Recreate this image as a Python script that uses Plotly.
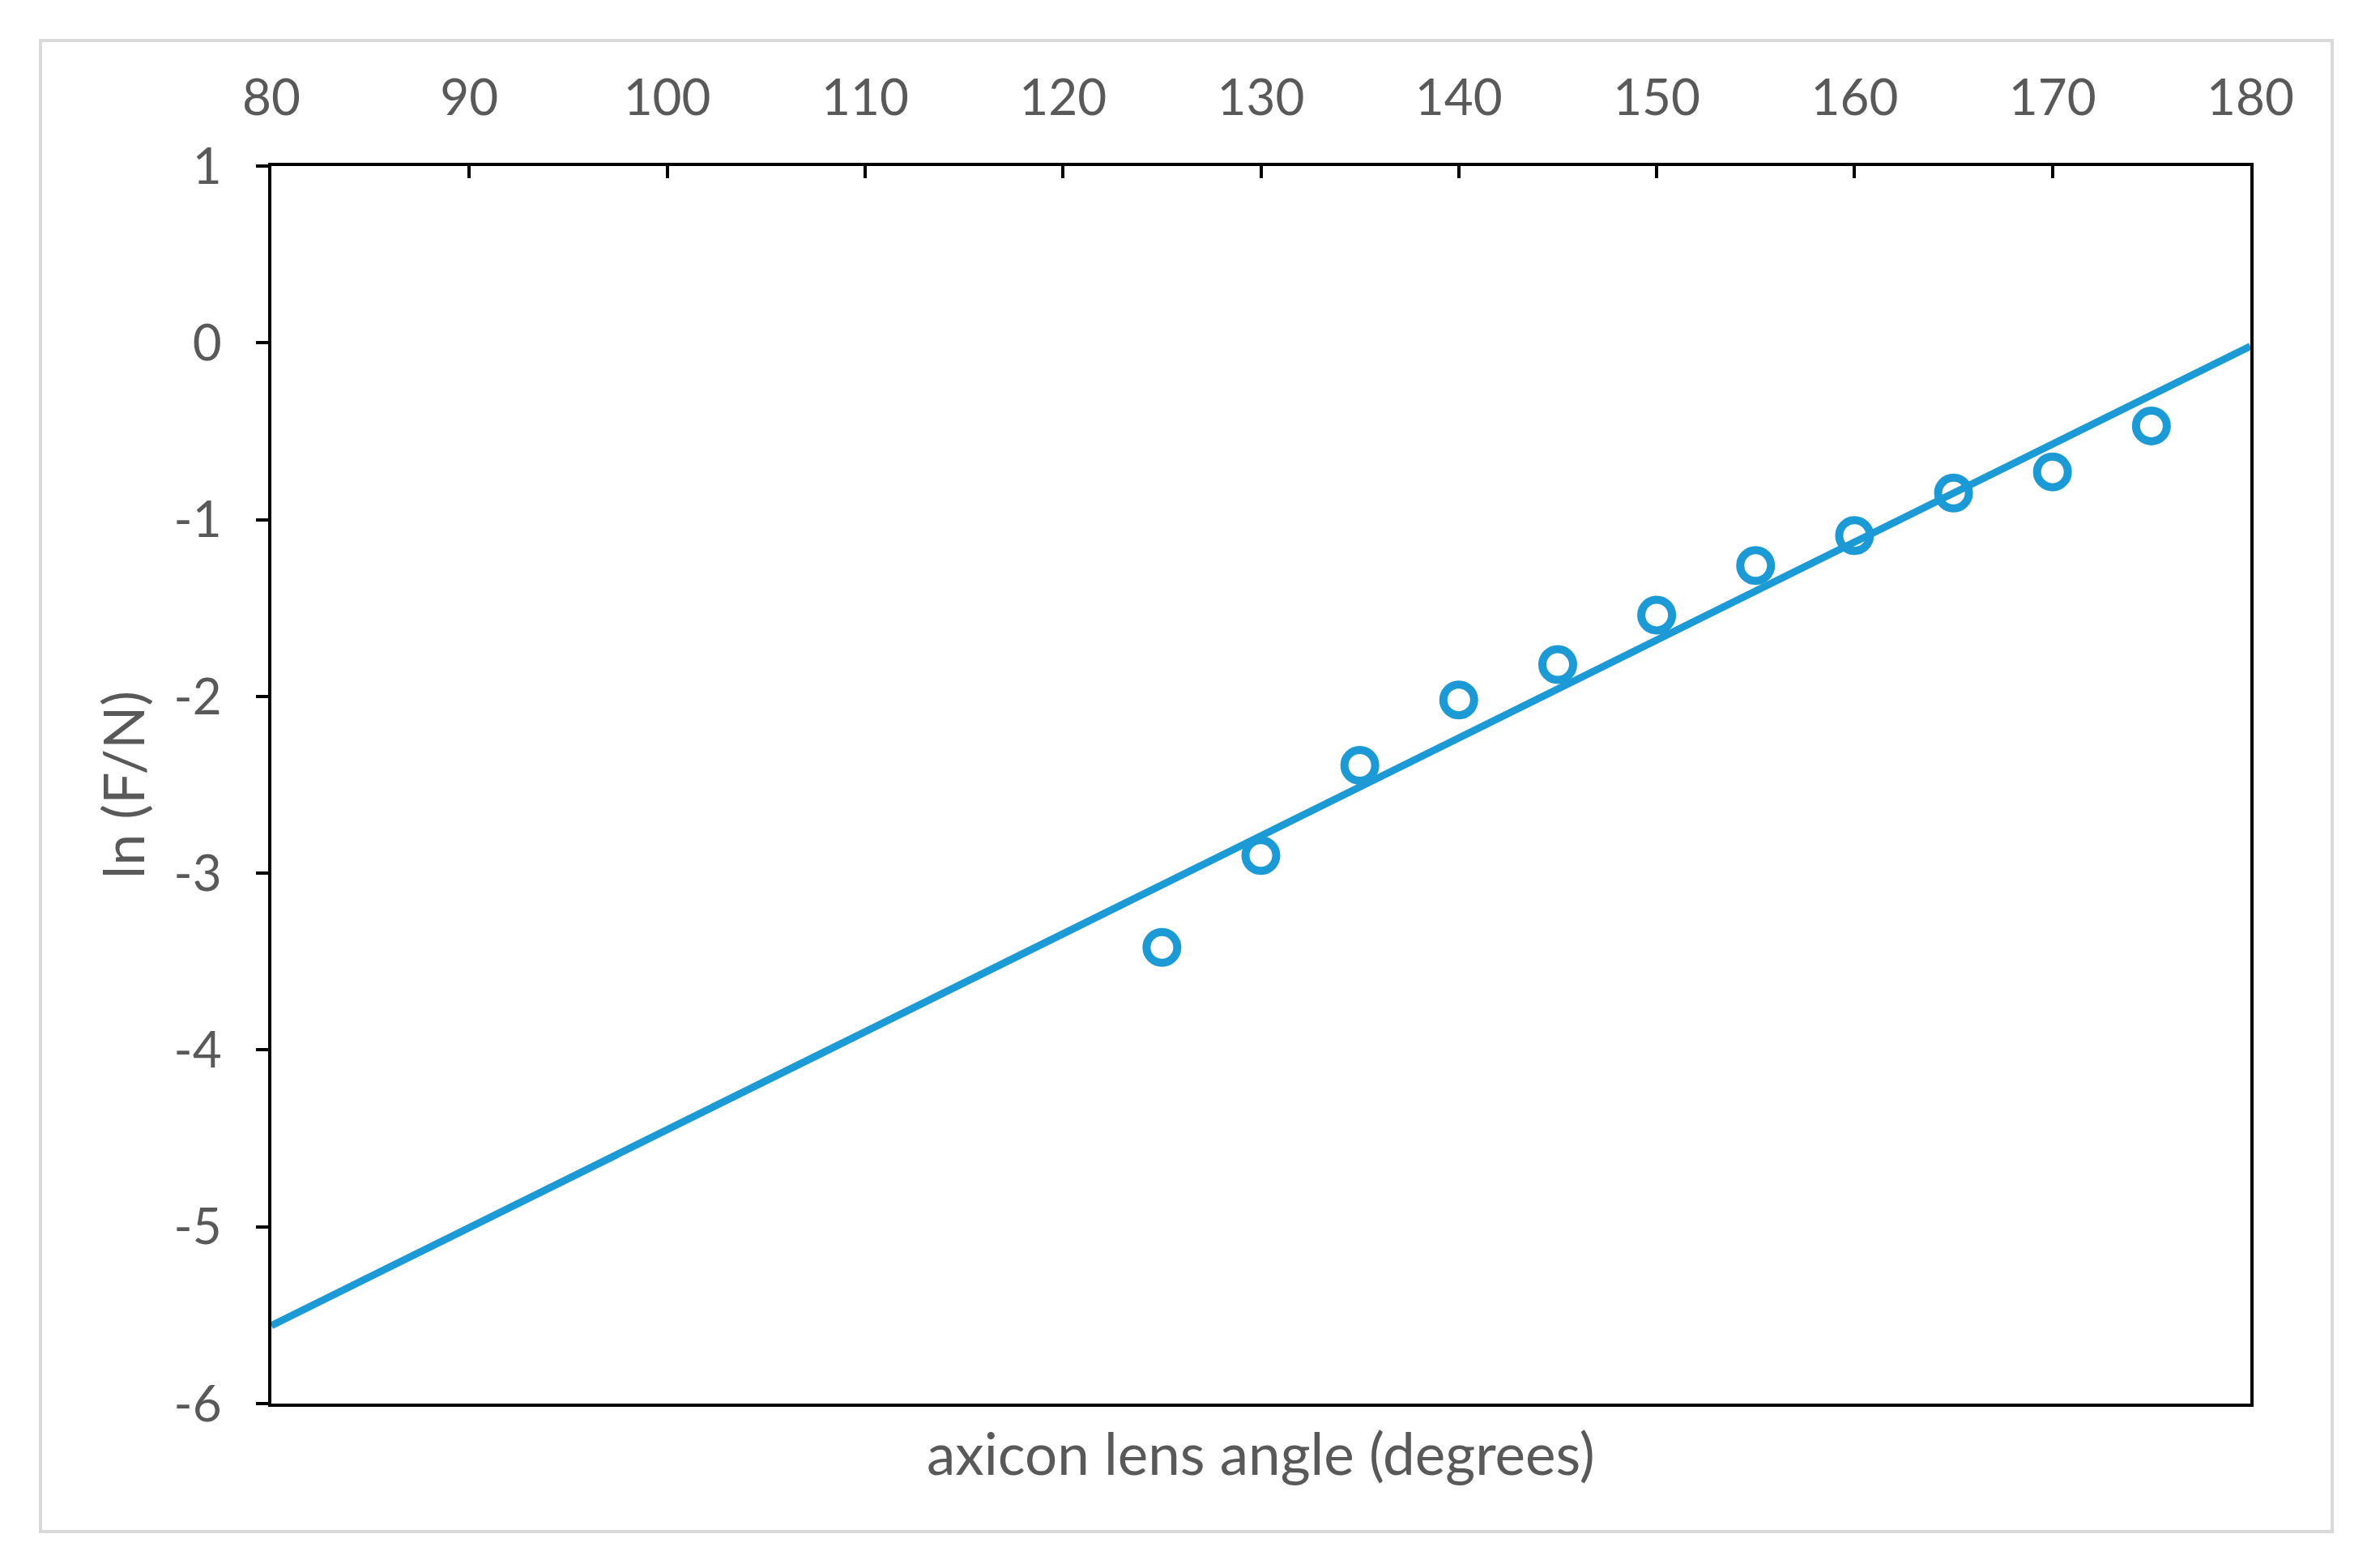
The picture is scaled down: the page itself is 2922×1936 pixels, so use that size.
import numpy as np
import plotly.graph_objects as go

# Data
angle_deg = [125, 130, 135, 140, 145, 150, 155, 160, 165, 170, 175]
ln_F_over_N = [-3.42, -2.90, -2.39, -2.02, -1.82, -1.54, -1.26, -1.09, -0.85, -0.73, -0.47]

x_tickvals = [80, 90, 100, 110, 120, 130, 140, 150, 160, 170, 180]
x_ticktext = [str(v) for v in x_tickvals]
y_tickvals = [1, 0, -1, -2, -3, -4, -5, -6]
y_ticktext = ["1", "0", "-1", "-2", "-3", "-4", "-5", "-6"]

x_title = "axicon lens angle (degrees)"
y_title = "ln (F/N)"

# Linear trendline (least squares fit of the data), spanning the axis range
slope, intercept = np.polyfit(angle_deg, ln_F_over_N, 1)
trend_x = [80, 180]
trend_y = [slope * v + intercept for v in trend_x]

BLUE = "#1b9ad6"
TEXT = "#595959"
FONT = "Lato, 'Open Sans', sans-serif"

fig = go.Figure()
fig.add_trace(go.Scatter(
    x=trend_x, y=trend_y, mode="lines",
    line=dict(color=BLUE, width=9), showlegend=False, hoverinfo="skip",
))
fig.add_trace(go.Scatter(
    x=angle_deg, y=ln_F_over_N, mode="markers",
    marker=dict(symbol="circle-open", size=38, color=BLUE, line=dict(color=BLUE, width=10)),
    showlegend=False,
))

W, H = 2922, 1936
ml, mr, mt, mb = 335, 144, 205, 203
pw = W - ml - mr
ph = H - mt - mb

def px_to_paper_x(px):
    return (px - ml) / pw

def px_to_paper_y(py):
    return (H - mb - py) / ph

fig.update_layout(
    width=W, height=H,
    margin=dict(l=ml, r=mr, t=mt, b=mb, autoexpand=False),
    paper_bgcolor="white", plot_bgcolor="white",
    font=dict(family=FONT, color=TEXT, size=60),
    xaxis=dict(
        range=[80, 180], side="top",
        tickvals=x_tickvals, ticktext=x_ticktext,
        ticks="inside", ticklen=15, tickwidth=4, tickcolor="black",
        showline=True, linecolor="black", linewidth=4, mirror=True,
        showgrid=False, zeroline=False,
        tickfont=dict(size=62, color=TEXT, family=FONT),
        ticklabelstandoff=34,
    ),
    yaxis=dict(
        range=[-6, 1],
        tickvals=y_tickvals, ticktext=y_ticktext,
        ticks="outside", ticklen=15, tickwidth=4, tickcolor="black",
        showline=True, linecolor="black", linewidth=4, mirror=True,
        showgrid=False, zeroline=False,
        tickfont=dict(size=62, color=TEXT, family=FONT),
        ticklabelstandoff=30,
        title=dict(text=y_title, font=dict(size=70, color=TEXT, family=FONT), standoff=14),
    ),
    shapes=[dict(
        type="rect", xref="paper", yref="paper",
        x0=px_to_paper_x(50), x1=px_to_paper_x(2879),
        y0=px_to_paper_y(1891), y1=px_to_paper_y(50),
        line=dict(color="#d9d9d9", width=4), fillcolor="rgba(0,0,0,0)", layer="below",
    )],
    annotations=[dict(
        text=x_title, xref="paper", yref="paper",
        x=0.5, y=px_to_paper_y(1793), xanchor="center", yanchor="middle",
        showarrow=False, font=dict(size=71, color=TEXT, family=FONT),
    )],
)

fig.write_html("out.html", config={"displayModeBar": False},
               post_script="document.body.style.margin='0px';")
